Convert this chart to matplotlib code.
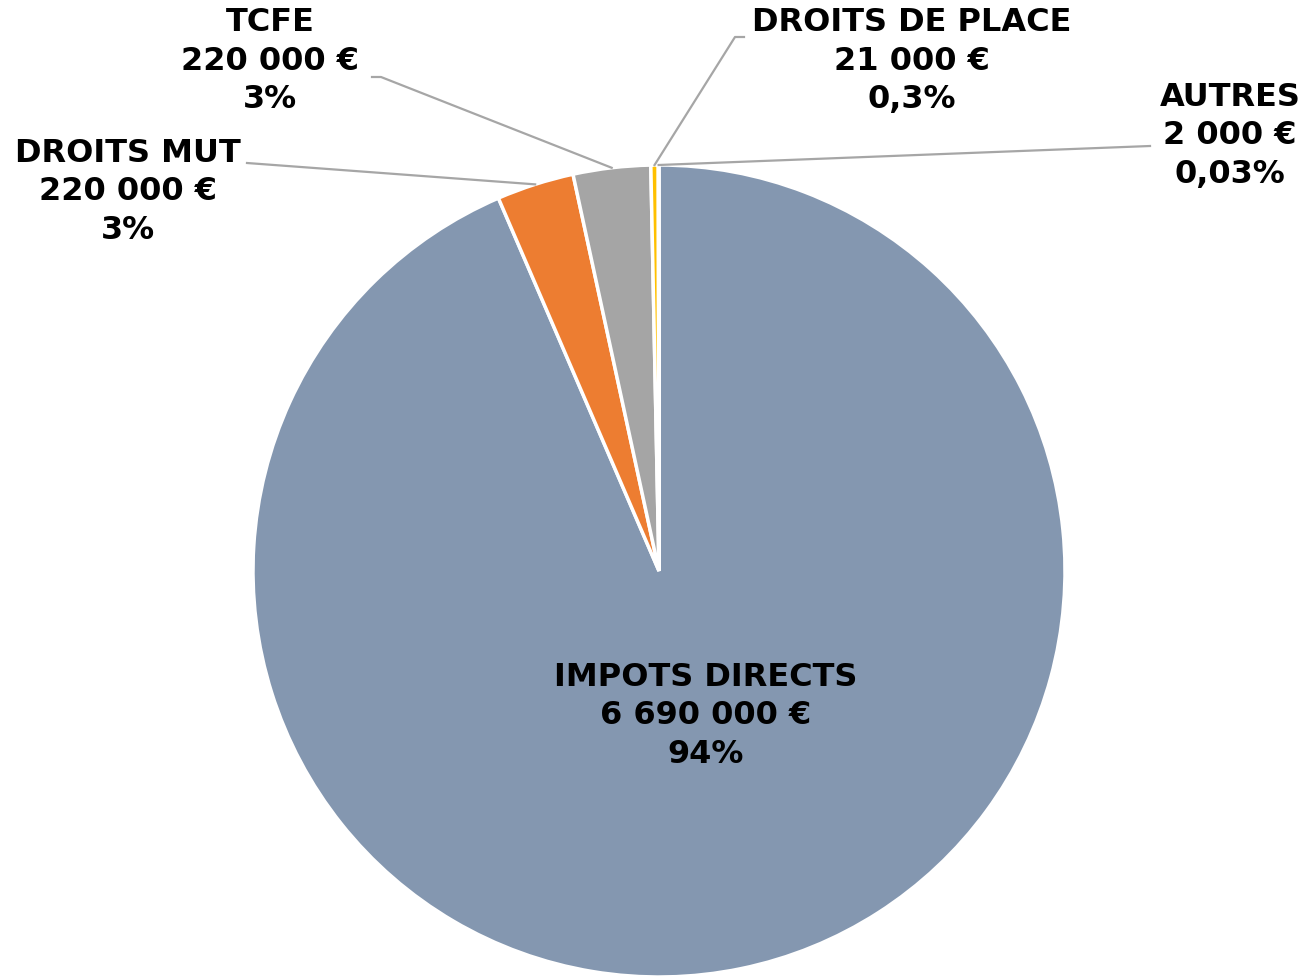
import matplotlib
matplotlib.use("Agg")
import matplotlib.pyplot as plt
import numpy as np

# Data
categories = ["IMPOTS DIRECTS", "DROITS MUT", "TCFE", "DROITS DE PLACE", "AUTRES"]
amounts = [6690000, 220000, 220000, 21000, 2000]
amount_labels = ["6 690 000 €", "220 000 €", "220 000 €", "21 000 €", "2 000 €"]
pct_labels = ["94%", "3%", "3%", "0,3%", "0,03%"]
colors = ["#8497B0", "#ED7D31", "#A5A5A5", "#FFC000", "#5B9BD5"]

W, H = 1308, 978
fig = plt.figure(figsize=(W / 100, H / 100), dpi=100)
ax = fig.add_axes([0, 0, 1, 1])

cx, cy, R = 659, 572, 406

# pie on a flipped y axis -> counterclock=True looks clockwise
wedges, _ = ax.pie(amounts, colors=colors, startangle=-90, counterclock=True,
                   radius=R, center=(cx, cy), frame=True,
                   wedgeprops=dict(edgecolor="white", linewidth=2.5))
ax.set_xlim(0, W)
ax.set_ylim(H, 0)
ax.set_aspect("equal")
ax.axis("off")

# label positions (centre of text block) and leader elbows
label_pos = [(706, 716), (128, 192), (270, 61), (912, 61), (1230, 136)]
elbows = [None, [(247, 164)], [(372, 78), (381, 78)], [(744, 38), (735, 38)], [(1150, 147)]]

for i, w in enumerate(wedges):
    txt = categories[i] + "\n" + amount_labels[i] + "\n" + pct_labels[i]
    x, y = label_pos[i]
    ax.text(x, y, txt, ha="center", va="center", fontsize=23, fontweight="bold",
            family="DejaVu Sans", linespacing=1.3, color="black")
    if elbows[i] is None:
        continue
    mid = np.deg2rad((w.theta1 + w.theta2) / 2)
    ex = cx + R * np.cos(mid)
    ey = cy + R * np.sin(mid)
    pts = elbows[i] + [(ex, ey)]
    ax.plot([p[0] for p in pts], [p[1] for p in pts], color="#A6A6A6", lw=1.6)

fig.savefig("out.png", dpi=100, facecolor="white")
